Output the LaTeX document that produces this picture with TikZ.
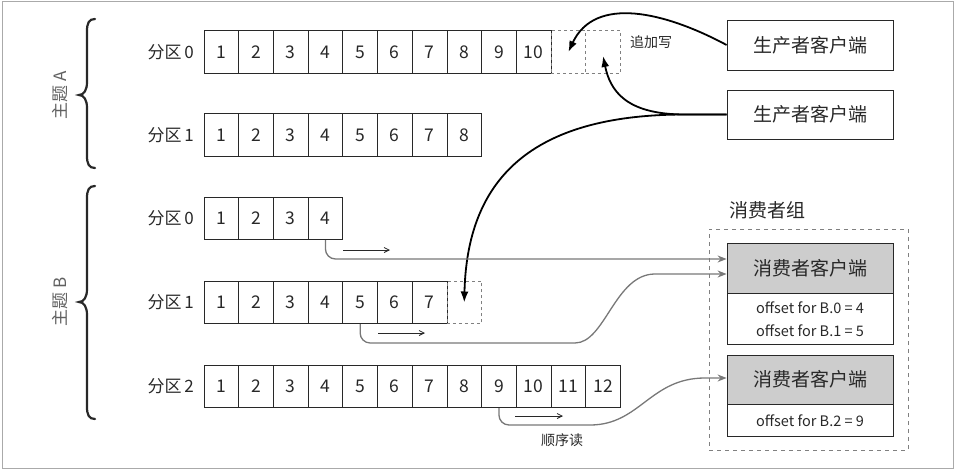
\documentclass[tikz,border=0pt]{standalone}
\usepackage{fontspec}
\newfontfamily\cjk{Noto Sans CJK SC}
\usetikzlibrary{arrows.meta}
\definecolor{ink}{RGB}{40,40,40}
\definecolor{cline}{RGB}{120,120,120}
\definecolor{hdr}{RGB}{205,205,205}
\definecolor{frame}{RGB}{170,170,170}
\begin{document}
\begin{tikzpicture}[x=1pt,y=-1pt,
  every node/.style={font=\cjk, text=ink},
  cell/.style={draw=ink, line width=0.7pt, minimum width=34.7pt, minimum height=42.5pt, inner sep=0pt, font=\cjk\fontsize{17.5}{17.5}\selectfont},
  ghost/.style={draw=gray, line width=0.7pt, dash pattern=on 3pt off 3pt, minimum width=34.7pt, minimum height=42.5pt, inner sep=0pt},
  plabel/.style={anchor=east, inner sep=0pt, font=\cjk\fontsize{17}{17}\selectfont},
  tlabel/.style={rotate=90, inner sep=0pt, text=gray!75!black, font=\cjk\fontsize{17}{17}\selectfont},
  brace/.style={draw=ink, line width=2.2pt, line cap=round},
  pbox/.style={draw=ink, line width=0.8pt, minimum width=166pt, inner sep=0pt, font=\cjk\fontsize{19}{19}\selectfont},
  hbox/.style={draw=ink, line width=0.8pt, fill=hdr, minimum width=166pt, inner sep=0pt, font=\cjk\fontsize{19}{19}\selectfont},
  bbox/.style={draw=ink, line width=0.8pt, minimum width=166pt, inner sep=0pt, align=center, font=\cjk\fontsize{14.5}{23}\selectfont},
  grpbox/.style={draw=gray, line width=0.8pt, dash pattern=on 4pt off 4pt, minimum width=199pt, minimum height=221pt, inner sep=0pt},
  small/.style={font=\cjk\fontsize{14}{14}\selectfont},
  prod/.style={draw=black, line width=1.8pt, -{Latex[length=11pt,width=8pt]}},
  cons/.style={draw=cline, line width=1.3pt, -{Stealth[length=9pt,width=7pt]}},
  seq/.style={draw=ink, line width=0.8pt, -{Straight Barb[length=5pt,width=5pt]}}
]
\useasboundingbox (0,0) rectangle (956,471);
\draw[frame, line width=1pt] (2,1) rectangle (953,468);

% cells
\foreach \r/\y/\n in {a0/52/10, a1/135/8, b0/218.5/4, b1/302.5/7, b2/386.5/12} {
  \foreach \k in {1,...,\n} {
    \node[cell] (\r-\k) at ({204+34.7*(\k-0.5)},\y) {\k};
  }
}
\node[ghost] (a0-11) at ({204+34.7*10.5},52) {};
\node[ghost] (a0-12) at ({204+34.7*11.5},52) {};
\node[ghost] (b1-8) at ({204+34.7*7.5},302.5) {};

% partition labels
\node[plabel] (la0) at (194,52) {分区\,0};
\node[plabel] (la1) at (194,135) {分区\,1};
\node[plabel] (lb0) at (194,218.5) {分区\,0};
\node[plabel] (lb1) at (194,302.5) {分区\,1};
\node[plabel] (lb2) at (194,386.5) {分区\,2};

% braces
\draw[brace] (95,19) .. controls (89,19) and (87,23) .. (87,31) -- (87,82)
  .. controls (87,90) and (84,95) .. (79,95) .. controls (84,95) and (87,100) .. (87,108)
  -- (87,156) .. controls (87,164) and (89,168) .. (95,168);
\draw[brace] (95,186) .. controls (89,186) and (87,190) .. (87,198) -- (87,289)
  .. controls (87,297) and (84,302) .. (79,302) .. controls (84,302) and (87,307) .. (87,315)
  -- (87,407) .. controls (87,415) and (89,419) .. (95,419);
\node[tlabel] (ta) at (60,95) {主题 A};
\node[tlabel] (tb) at (60,302) {主题 B};

% producers
\node[pbox, minimum height=50pt] (p1) at (810,45) {生产者客户端};
\node[pbox, minimum height=49pt] (p2) at (810,114.5) {生产者客户端};
\node[small] (append) at (651,42) {追加写};

% consumer group
\node[grpbox] (grp) at (808.5,339.5) {};
\node[font=\cjk\fontsize{19}{19}\selectfont] (glabel) at (767,210) {消费者组};
\node[hbox, minimum height=50pt] (c1h) at (810,268) {消费者客户端};
\node[bbox, minimum height=51pt, anchor=north] (c1b) at (c1h.south) {offset for B.0 = 4\\offset for B.1 = 5};
\node[hbox, minimum height=49pt] (c2h) at (810,379.5) {消费者客户端};
\node[bbox, minimum height=32pt, anchor=north] (c2b) at (c2h.south) {offset for B.2 = 9};

% producer arrows
\draw[prod] (p1.west) .. controls (665,12) and (595,-5) .. (a0-11.center);
\draw[prod] (p2.west) -- (685,114.5) .. controls (625,114.5) and (610,90) .. ([yshift=-4pt]a0-12.center);
\draw[prod] (p2.west) -- (685,114.5) .. controls (530,114.5) and (467,180) .. (b1-8.center);

% consumer arrows
\draw[cons, rounded corners=10pt] (b0-4.south) |- ([yshift=9pt]c1h.west);
\draw[cons] (b1-5.south) [rounded corners=10pt] |- (565,343) [sharp corners] .. controls (605,343) and (615,274) .. (655,274) -- ([yshift=-6pt]c1h.west);
\draw[cons] (b2-9.south) [rounded corners=10pt] |- (580,425) [sharp corners] .. controls (640,425) and (650,378) .. (705,378) -- ([yshift=1.5pt]c2h.west);

% sequential read arrows
\coordinate (s0a) at (343,250); \coordinate (s0b) at (390,250);
\coordinate (s1a) at (378,333); \coordinate (s1b) at (425,333);
\coordinate (s2a) at (515,416); \coordinate (s2b) at (563,416);
\draw[seq] (s0a) -- (s0b);
\draw[seq] (s1a) -- (s1b);
\draw[seq] (s2a) -- (s2b);
\node[small] (seqlabel) at (562,440) {顺序读};
\end{tikzpicture}
\end{document}
